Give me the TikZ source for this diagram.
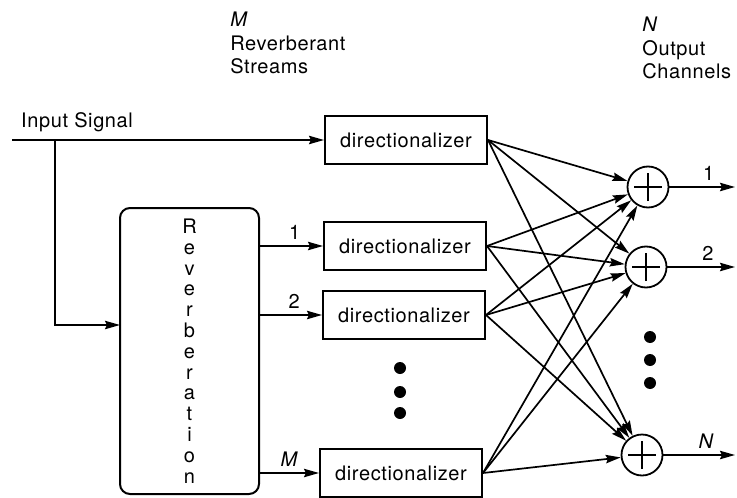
\documentclass[tikz,border=0pt]{standalone}
\usepackage{fontspec}
\setmainfont[LetterSpace=3]{TeX Gyre Heros}
\usetikzlibrary{arrows.meta}

\tikzset{
  dirbox/.style={draw, line width=1pt, minimum width=81pt, minimum height=24pt, inner sep=0pt, font=\fontsize{10}{12}\selectfont},
  summer/.style={circle, draw, line width=0.9pt, minimum size=20.5pt, inner sep=0pt,
    path picture={\draw[line width=0.8pt] ([xshift=-7pt]path picture bounding box.center) -- ([xshift=7pt]path picture bounding box.center)
      ([yshift=-7pt]path picture bounding box.center) -- ([yshift=7pt]path picture bounding box.center);}},
  sig/.style={line width=0.85pt, -{Stealth[length=7.5pt,width=4.2pt,inset=1pt]}},
  lbl/.style={font=\fontsize{10}{12}\selectfont, inner sep=1pt},
  bigdot/.style={circle, fill, inner sep=0pt, minimum size=6pt}
}

\begin{document}
\begin{tikzpicture}[x=0.5pt,y=0.5pt,yscale=-1]
\useasboundingbox (0,0) rectangle (737,497);

%Reverberation block
\node[draw, rounded corners=5pt, line width=1pt, minimum width=69.5pt, minimum height=143pt, align=center,
  font=\fontsize{10}{10.4}\selectfont] (rev) at (189.5,351) {R\\e\\v\\e\\r\\b\\e\\r\\a\\t\\i\\o\\n};

%Directionalizers
\node[dirbox] (d0) at (406,140) {directionalizer};
\node[dirbox] (d1) at (405,246) {directionalizer};
\node[dirbox] (d2) at (404,315) {directionalizer};
\node[dirbox] (dM) at (401,473) {directionalizer};

%Summers
\node[summer] (s1) at (648,187) {};
\node[summer] (s2) at (646,267) {};
\node[summer] (sN) at (642,455) {};

%Input signal and branch
\coordinate (in) at (12,140);
\coordinate (br) at (55,140);
\coordinate (revin) at (120,325);
\node[lbl] (inlbl) at (77,122) {Input Signal};
\draw[sig] (in) -- (d0.west);
\draw[sig] (br) |- (revin);

%Reverberant streams
\draw[sig] (rev.east |- d1.west) -- node[lbl, above=2pt, pos=0.55] (st1) {1} (d1.west);
\draw[sig] (rev.east |- d2.west) -- node[lbl, above=2pt, pos=0.55] (st2) {2} (d2.west);
\draw[sig] (rev.east |- dM.west) -- node[lbl, above=2pt, pos=0.5] (stM) {\textit{M}} (dM.west);

%Every directionalizer feeds every summer
\foreach \d in {d0,d1,d2,dM}
  \foreach \s in {s1,s2,sN}
    \draw[sig] (\d.east) -- (\s);

%Output channels
\coordinate (o1) at (735,187);
\coordinate (o2) at (735,267);
\coordinate (oN) at (735,455);
\draw[sig] (s1) -- node[lbl, above=2pt, pos=0.6] (ch1) {1} (o1);
\draw[sig] (s2) -- node[lbl, above=2pt, pos=0.6] (ch2) {2} (o2);
\draw[sig] (sN) -- node[lbl, above=2pt, pos=0.6] (chN) {\textit{N}} (oN);

%Ellipsis dots
\foreach \y in {368,392,413} \node[bigdot] (ldot\y) at (400,\y) {};
\foreach \y in {337,360,383} \node[bigdot] (rdot\y) at (650,\y) {};

%Column headings
\node[lbl, align=left, anchor=west, font=\fontsize{10}{11.75}\selectfont] (mhead) at (228,43) {\textit{M}\\Reverberant\\Streams};
\node[lbl, align=left, anchor=west, font=\fontsize{10}{11.75}\selectfont] (nhead) at (640,48) {\textit{N}\\Output\\Channels};

\end{tikzpicture}
\end{document}
